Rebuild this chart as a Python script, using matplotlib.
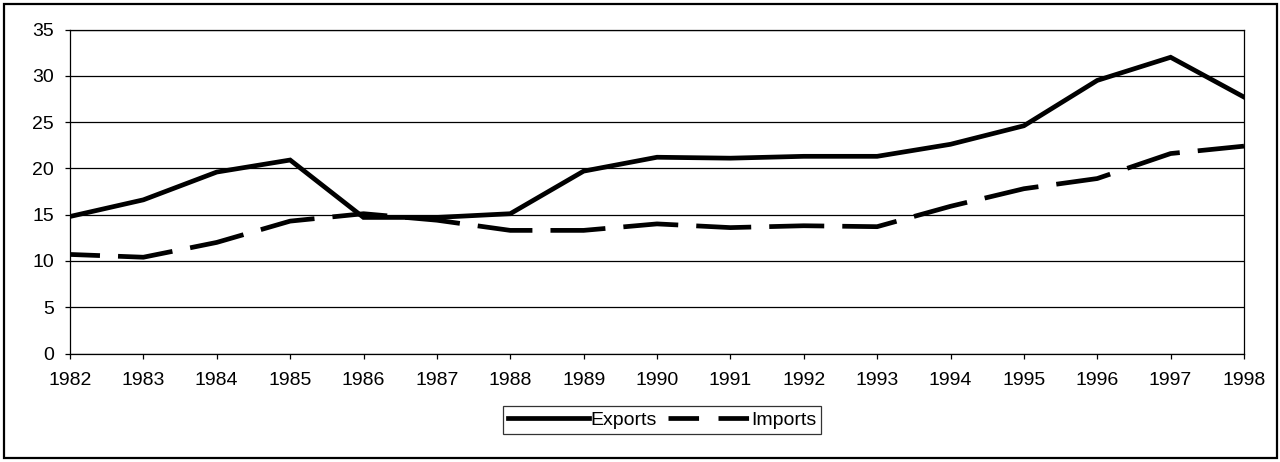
import matplotlib
matplotlib.use("Agg")
import matplotlib.pyplot as plt
from matplotlib.lines import Line2D
from matplotlib.patches import Rectangle

years = [1982, 1983, 1984, 1985, 1986, 1987, 1988, 1989, 1990,
         1991, 1992, 1993, 1994, 1995, 1996, 1997, 1998]
exports = [14.8, 16.6, 19.6, 20.9, 14.7, 14.7, 15.1, 19.7, 21.2,
           21.1, 21.3, 21.3, 22.6, 24.6, 29.5, 32.0, 27.7]
imports = [10.7, 10.4, 12.0, 14.3, 15.1, 14.4, 13.3, 13.3, 14.0,
           13.6, 13.8, 13.7, 15.9, 17.8, 18.9, 21.6, 22.4]
y_ticks = [0, 5, 10, 15, 20, 25, 30, 35]

plt.rcParams["font.family"] = ["Liberation Sans", "DejaVu Sans"]
plt.rcParams["lines.scale_dashes"] = False

fig = plt.figure(figsize=(12.8, 4.62), dpi=100)
fig.patch.set_facecolor("white")
ax = fig.add_axes([70 / 1280, 1 - 353.5 / 462, (1244 - 70) / 1280, (353.5 - 29.5) / 462])

# outer chart border
fig.patches.append(Rectangle((4 / 1280, 4 / 462), 1273 / 1280, 454 / 462,
                             transform=fig.transFigure, fill=False,
                             edgecolor="black", linewidth=1.6))

ax.plot(years, exports, color="black", linewidth=3.4, solid_joinstyle="miter",
        zorder=3)
ax.plot(years, imports, color="black", linewidth=3.4,
        linestyle=(18, (39.6, 13.0)), dash_capstyle="butt", zorder=3)

ax.set_xlim(years[0], years[-1])
ax.set_ylim(0, 35)
ax.set_xticks(years)
ax.set_xticklabels([str(y) for y in years])
ax.set_yticks(y_ticks)
ax.yaxis.grid(True, color="black", linewidth=0.9)
ax.set_axisbelow(True)
for s in ax.spines.values():
    s.set_color("black")
    s.set_linewidth(0.9)
ax.tick_params(axis="both", direction="out", length=3.5, width=0.9,
               colors="black", labelsize=14)
ax.tick_params(axis="x", pad=10)
ax.tick_params(axis="y", pad=8)

handles = [
    Line2D([0], [0], color="black", linewidth=3.4),
    Line2D([0], [0], color="black", linewidth=3.4,
           linestyle=(0, (22, 14))),
]
leg = fig.legend(handles, ["Exports", "Imports"], ncol=2,
                 loc="center", bbox_to_anchor=(662 / 1280, 1 - 420 / 462),
                 fontsize=14, frameon=True, fancybox=False, shadow=False,
                 handlelength=4.2, handletextpad=0.05, columnspacing=0.6,
                 borderpad=0.25, borderaxespad=0)
leg.get_frame().set_edgecolor("black")
leg.get_frame().set_linewidth(0.9)

fig.savefig("out.png", dpi=100, facecolor="white")
